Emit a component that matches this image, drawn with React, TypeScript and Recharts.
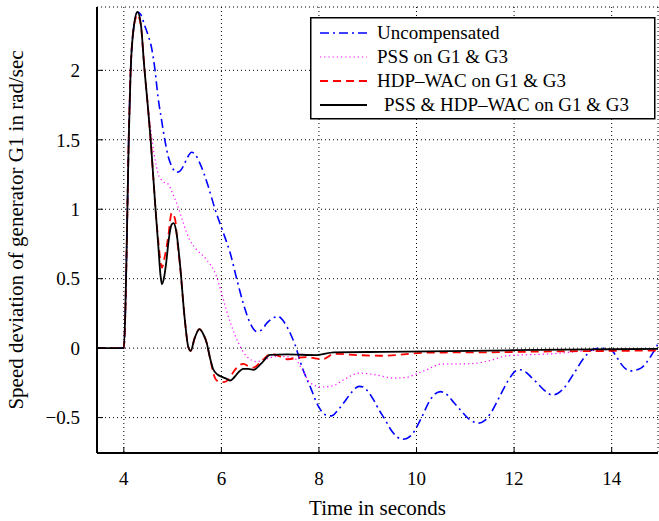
import React from "react";
import { LineChart, Line, XAxis, YAxis, CartesianGrid, Legend } from "recharts";

const xTicks = [4, 6, 8, 10, 12, 14];
const yTicks = [-0.5, 0, 0.5, 1, 1.5, 2];

const uncompTime = [3.45, 4.0, 4.03, 4.06, 4.1, 4.14, 4.2, 4.28, 4.35, 4.43, 4.5, 4.57, 4.64, 4.7, 4.77, 4.84, 4.91, 4.98, 5.08, 5.15, 5.22, 5.3, 5.39, 5.47, 5.56, 5.64, 5.73, 5.87, 6.04, 6.18, 6.32, 6.45, 6.59, 6.72, 6.82, 6.93, 7.05, 7.17, 7.26, 7.34, 7.42, 7.51, 7.65, 7.82, 7.99, 8.13, 8.26, 8.38, 8.5, 8.62, 8.74, 8.82, 8.91, 9.0, 9.12, 9.24, 9.36, 9.46, 9.56, 9.7, 9.8, 9.9, 10.08, 10.28, 10.38, 10.49, 10.63, 10.76, 10.9, 11.1, 11.28, 11.4, 11.52, 11.72, 11.93, 12.03, 12.13, 12.23, 12.34, 12.47, 12.61, 12.78, 12.9, 13.02, 13.23, 13.43, 13.6, 13.77, 13.98, 14.08, 14.18, 14.39, 14.6, 14.8, 14.95];
const uncompSpeed = [0, 0, 0.25, 0.75, 1.5, 2.0, 2.3, 2.42, 2.4, 2.32, 2.25, 2.16, 2.0, 1.81, 1.65, 1.5, 1.38, 1.31, 1.266, 1.275, 1.31, 1.37, 1.41, 1.39, 1.33, 1.26, 1.165, 1.0, 0.83, 0.685, 0.49, 0.32, 0.18, 0.12, 0.13, 0.18, 0.215, 0.228, 0.2, 0.156, 0.1, 0.024, -0.133, -0.277, -0.42, -0.48, -0.488, -0.45, -0.397, -0.34, -0.29, -0.275, -0.28, -0.31, -0.373, -0.45, -0.517, -0.58, -0.625, -0.656, -0.65, -0.625, -0.517, -0.373, -0.33, -0.313, -0.337, -0.39, -0.445, -0.517, -0.54, -0.52, -0.469, -0.337, -0.205, -0.165, -0.156, -0.17, -0.205, -0.25, -0.3, -0.337, -0.325, -0.288, -0.18, -0.072, -0.012, 0.0, -0.012, -0.05, -0.108, -0.164, -0.144, -0.06, 0.03];

const pssTime = [3.45, 4.0, 4.03, 4.06, 4.1, 4.14, 4.2, 4.28, 4.35, 4.42, 4.49, 4.55, 4.62, 4.7, 4.8, 4.91, 5.01, 5.11, 5.22, 5.35, 5.49, 5.69, 5.9, 6.0, 6.1, 6.2, 6.35, 6.52, 6.72, 6.9, 7.13, 7.35, 7.5, 7.6, 7.68, 7.82, 8.05, 8.3, 8.5, 8.84, 9.12, 9.55, 9.8, 10.0, 10.21, 10.5, 11.1, 11.5, 11.86, 12.5, 12.82, 13.3, 14.0, 14.95];
const pssSpeed = [0, 0, 0.25, 0.75, 1.5, 2.0, 2.3, 2.42, 2.33, 2.02, 1.76, 1.58, 1.4, 1.26, 1.2, 1.18, 1.105, 1.02, 0.9, 0.78, 0.71, 0.64, 0.516, 0.4, 0.276, 0.168, 0.036, -0.06, -0.097, -0.08, -0.06, -0.062, -0.072, -0.12, -0.169, -0.25, -0.28, -0.27, -0.229, -0.18, -0.19, -0.216, -0.21, -0.185, -0.156, -0.115, -0.112, -0.09, -0.055, -0.045, -0.04, -0.024, -0.01, -0.005];

const hdpTime = [3.45, 4.0, 4.03, 4.06, 4.1, 4.14, 4.2, 4.28, 4.35, 4.42, 4.49, 4.55, 4.6, 4.65, 4.71, 4.75, 4.78, 4.84, 4.91, 4.98, 5.05, 5.1, 5.15, 5.25, 5.32, 5.37, 5.45, 5.55, 5.63, 5.7, 5.76, 5.87, 5.94, 6.05, 6.14, 6.25, 6.35, 6.45, 6.55, 6.66, 6.83, 7.03, 7.2, 7.37, 7.55, 7.78, 7.95, 8.09, 8.3, 8.8, 9.26, 10.28, 11.5, 12.5, 14.0, 14.95];
const hdpSpeed = [0, 0, 0.25, 0.75, 1.5, 2.0, 2.3, 2.4, 2.32, 2.02, 1.75, 1.5, 1.25, 1.0, 0.76, 0.63, 0.58, 0.66, 0.8, 0.973, 0.93, 0.76, 0.6, 0.205, 0.01, -0.02, 0.07, 0.137, 0.1, 0.036, -0.06, -0.216, -0.24, -0.245, -0.229, -0.17, -0.128, -0.113, -0.13, -0.14, -0.09, -0.041, -0.06, -0.08, -0.07, -0.065, -0.075, -0.079, -0.041, -0.05, -0.055, -0.032, -0.03, -0.025, -0.02, -0.017];

const bothTime = [3.45, 4.0, 4.03, 4.06, 4.1, 4.14, 4.2, 4.28, 4.35, 4.42, 4.49, 4.55, 4.6, 4.65, 4.71, 4.75, 4.78, 4.82, 4.87, 4.92, 4.98, 5.02, 5.08, 5.15, 5.25, 5.32, 5.37, 5.45, 5.55, 5.63, 5.7, 5.76, 5.83, 5.92, 6.0, 6.1, 6.18, 6.25, 6.31, 6.45, 6.55, 6.66, 6.83, 7.0, 7.34, 7.96, 8.3, 9.0, 10.28, 12.0, 14.0, 14.95];
const bothSpeed = [0, 0, 0.25, 0.75, 1.5, 2.0, 2.3, 2.42, 2.33, 2.02, 1.75, 1.5, 1.25, 1.0, 0.72, 0.53, 0.46, 0.5, 0.62, 0.78, 0.89, 0.9, 0.83, 0.61, 0.205, 0.01, -0.02, 0.07, 0.137, 0.1, 0.036, -0.06, -0.15, -0.19, -0.205, -0.22, -0.233, -0.215, -0.19, -0.15, -0.15, -0.156, -0.106, -0.048, -0.045, -0.05, -0.03, -0.028, -0.024, -0.015, -0.008, -0.005];

const seriesNames = ["Uncompensated", "PSS on G1 & G3", "HDP\u2013WAC on G1 & G3", "PSS & HDP\u2013WAC on G1 & G3"];

const toPoints = (ts: number[], vs: number[]) => ts.map((t, i) => ({ t, v: vs[i] }));

const FONT = "'Liberation Serif', 'Times New Roman', serif";

const styles = [
  { color: "#0000ff", dash: "9 4 2 4", width: 1.6 },
  { color: "#ff00ff", dash: "1.2 3", width: 1.2 },
  { color: "#ff0000", dash: "8 5", width: 1.8 },
  { color: "#000000", dash: undefined as string | undefined, width: 1.8 },
];

const LegendBox = () => (
  <svg width={346} height={103} style={{ display: "block" }}>
    <rect x={0.75} y={0.75} width={344} height={101} fill="#fff" stroke="#000" strokeWidth={1.5} />
    {seriesNames.map((name, i) => {
      const cy = 16 + i * 24;
      return (
        <g key={name}>
          <line x1={10} x2={57} y1={cy} y2={cy} stroke={styles[i].color} strokeWidth={styles[i].width} strokeDasharray={styles[i].dash} />
          <text x={i === 3 ? 74 : 67} y={cy + 6} fontFamily={FONT} fontSize={19} fill="#000">{name}</text>
        </g>
      );
    })}
  </svg>
);

const fmt = (v: number) => (v < 0 ? "\u2212" + String(Math.abs(v)) : String(v));

export default function App() {
  const data = [
    toPoints(uncompTime, uncompSpeed),
    toPoints(pssTime, pssSpeed),
    toPoints(hdpTime, hdpSpeed),
    toPoints(bothTime, bothSpeed),
  ];
  return (
    <div style={{ position: "absolute", left: 0, top: 0, width: 659, height: 521, background: "#fff" }}>
      <LineChart width={659} height={521} margin={{ top: 7, right: 1, bottom: 0, left: 0 }}>
        <CartesianGrid xAxisId="bottom" yAxisId="left" stroke="#000" strokeDasharray="1 3" strokeWidth={1} />
        <XAxis
          xAxisId="bottom"
          type="number"
          dataKey="t"
          domain={[3.45, 14.95]}
          allowDataOverflow
          ticks={xTicks}
          height={68}
          tickSize={-6}
          tickMargin={25}
          axisLine={{ stroke: "#000", strokeWidth: 2 }}
          tickLine={{ stroke: "#000", strokeWidth: 1 }}
          tick={{ fill: "#000", fontFamily: FONT, fontSize: 19 }}
          label={{ value: "Time in seconds", position: "insideBottom", offset: 6, fill: "#000", fontFamily: FONT, fontSize: 21 }}
        />
        <XAxis
          xAxisId="top"
          orientation="top"
          type="number"
          dataKey="t"
          domain={[3.45, 14.95]}
          allowDataOverflow
          ticks={xTicks}
          height={0}
          tickSize={-6}
          tick={false}
          axisLine={{ stroke: "#000", strokeWidth: 2 }}
          tickLine={{ stroke: "#000", strokeWidth: 1 }}
        />
        <YAxis
          yAxisId="left"
          type="number"
          domain={[-0.755, 2.456]}
          allowDataOverflow
          ticks={yTicks}
          width={97}
          tickSize={-6}
          tickMargin={23}
          tickFormatter={fmt}
          axisLine={{ stroke: "#000", strokeWidth: 2 }}
          tickLine={{ stroke: "#000", strokeWidth: 1 }}
          tick={{ fill: "#000", fontFamily: FONT, fontSize: 19 }}
          label={{ value: "Speed deviation of generator G1 in rad/sec", angle: -90, position: "insideLeft", offset: 16, style: { textAnchor: "middle" }, fill: "#000", fontFamily: FONT, fontSize: 21 }}
        />
        <YAxis
          yAxisId="right"
          orientation="right"
          type="number"
          domain={[-0.755, 2.456]}
          allowDataOverflow
          ticks={yTicks}
          width={0}
          tickSize={-6}
          tick={false}
          axisLine={{ stroke: "#000", strokeWidth: 2 }}
          tickLine={{ stroke: "#000", strokeWidth: 1 }}
        />
        <Legend
          layout="horizontal"
          verticalAlign="middle"
          align="center"
          wrapperStyle={{ position: "absolute", left: 310, top: 17, width: 346, height: 103 }}
          content={() => <LegendBox />}
        />
        {data.map((pts, i) => (
          <Line
            key={seriesNames[i]}
            xAxisId="bottom"
            yAxisId="left"
            data={pts}
            dataKey="v"
            name={seriesNames[i]}
            type="monotone"
            stroke={styles[i].color}
            strokeWidth={styles[i].width}
            strokeDasharray={styles[i].dash}
            dot={false}
            activeDot={false}
            isAnimationActive={false}
          />
        ))}
      </LineChart>
    </div>
  );
}
